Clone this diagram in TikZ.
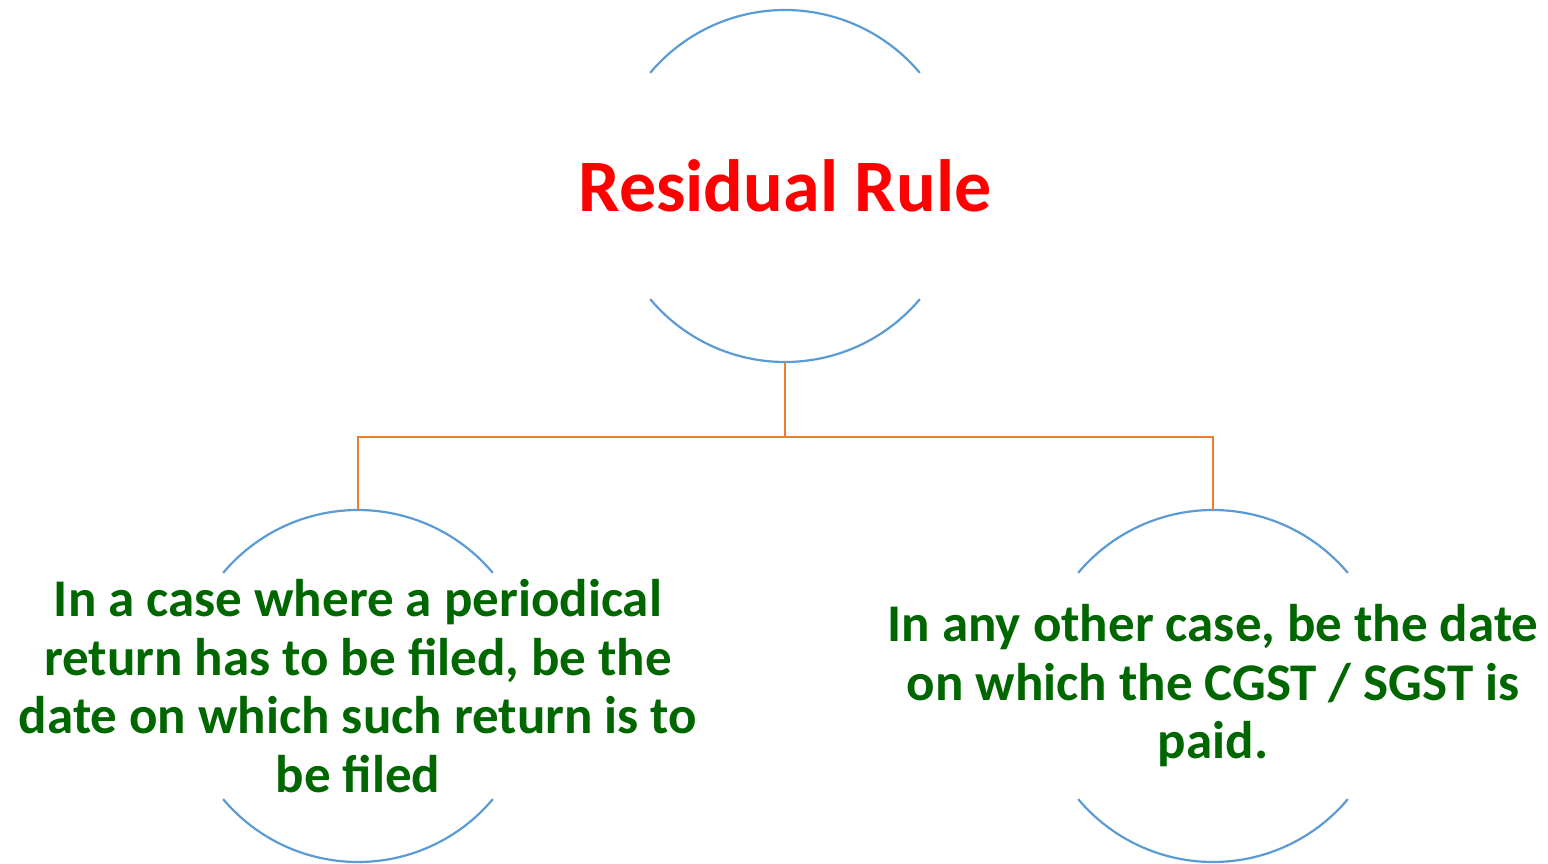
\documentclass[tikz,border=0pt]{standalone}
\usepackage{fontspec}
\setmainfont{Carlito}
\definecolor{arcblue}{HTML}{5B9BD5}
\definecolor{linkorange}{HTML}{ED7D31}
\definecolor{txtgreen}{HTML}{006600}
\definecolor{txtred}{HTML}{FF0000}
\begin{document}
\begin{tikzpicture}[x=1pt,y=-1pt,
  ring/.style={circle, minimum size=352pt, inner sep=0pt, outer sep=0pt},
  arcline/.style={draw=arcblue, line width=2.2pt},
  link/.style={draw=linkorange, line width=2.2pt},
  title/.style={font=\bfseries\fontsize{74}{90}\selectfont, text=txtred, align=center},
  body/.style={font=\bfseries\fontsize{53}{58.5}\selectfont, text=txtgreen, align=center}]
\useasboundingbox (0,0) rectangle (1548,864);
\node[ring] (top) at (785,186) {};
\node[ring] (left) at (358,686) {};
\node[ring] (right) at (1213,686) {};
\foreach \n in {top,left,right}{
  \draw[arcline] (\n.40) arc[start angle=40, end angle=140, radius=176pt];
  \draw[arcline] (\n.220) arc[start angle=220, end angle=320, radius=176pt];
}
\node[title] (ttl) at (785,186) {Residual Rule};
\node[body] (ltxt) at (358,686) {In a case where a periodical\\return has to be filed, be the\\date on which such return is to\\be filed};
\node[body] (rtxt) at (1213,686) {In any other case, be the date\\on which the CGST / SGST is\\paid.};
\coordinate (mid) at (785,437);
\draw[link] (top.south) -- (mid);
\draw[link] (left.north) -- (left.north |- mid) -- (right.north |- mid) -- (right.north);
\end{tikzpicture}
\end{document}
